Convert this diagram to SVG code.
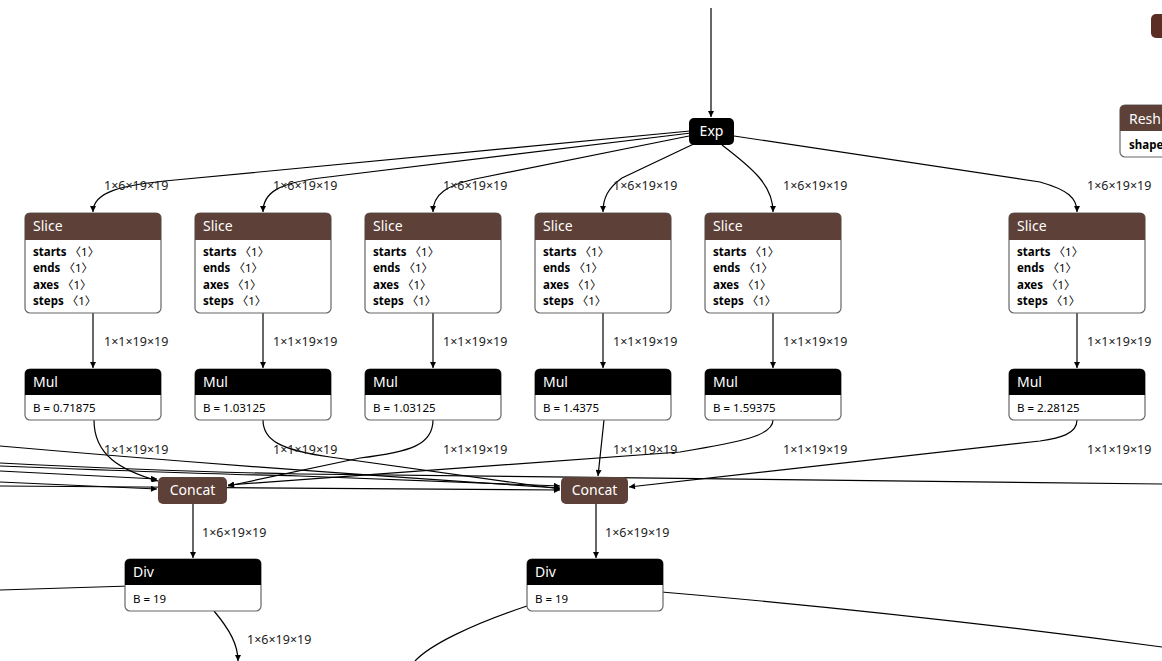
<svg xmlns="http://www.w3.org/2000/svg" width="1162" height="661" viewBox="0 0 1162 661">
<style>
.e{fill:none;stroke:#000;stroke-width:1.2}
.ea{fill:none;stroke:#000;stroke-width:1.2;marker-end:url(#ah)}
.lbl{font-family:"Noto Sans","DejaVu Sans",sans-serif;font-size:12.5px;fill:#222}
.body{fill:#fff;stroke:#666;stroke-width:1.2}
.hb{fill:#5d4037}
.hk{fill:#000}
.ht{font-family:"Noto Sans","DejaVu Sans",sans-serif;font-size:14px;fill:#fff}
.at{font-family:"Noto Sans","Noto Sans CJK SC",sans-serif;font-size:11.5px;fill:#000}
.b{font-weight:bold}
</style>
<defs>
<marker id="ah" viewBox="0 0 10 10" refX="10" refY="5" markerWidth="7" markerHeight="6" markerUnits="userSpaceOnUse" orient="auto"><path d="M0,0 L10,5 L0,10 z" fill="#000"/></marker>
</defs>
<g id="connectors">
<path class="ea" d="M711,8 L711,117"/>
<path class="ea" d="M690,131 L175,180 C120,185 93,192 93,212"/>
<path class="ea" d="M691,133 L320,178 C280,183 263,192 263,212"/>
<path class="ea" d="M694,135 L480,178 C445,185 433,195 433,212"/>
<path class="ea" d="M700,141 L622,178 C608,188 603,198 603,212"/>
<path class="ea" d="M722,145 C752,168 773,185 773,212"/>
<path class="ea" d="M734,136 L1040,182 C1068,190 1077,198 1077,212"/>
<path class="ea" d="M93,313 L93,368"/>
<path class="ea" d="M263,313 L263,368"/>
<path class="ea" d="M433,313 L433,368"/>
<path class="ea" d="M603,313 L603,368"/>
<path class="ea" d="M773,313 L773,368"/>
<path class="ea" d="M1077,313 L1077,368"/>
<path class="ea" d="M94,420 C94,455 120,470 158,481"/>
<path class="ea" d="M263,420 C263,440 280,450 330,457 L560,489"/>
<path class="ea" d="M433,420 C433,445 410,452 360,458 L228,486"/>
<path class="ea" d="M604,420 L598,476"/>
<path class="ea" d="M773,420 C773,436 740,442 680,452 L228,485"/>
<path class="ea" d="M1077,420 C1077,434 1060,438 1040,441 L629,487"/>
<path class="ea" d="M0,446 Q250,468 560,488"/>
<path class="e" d="M0,463 C100,468 200,472 300,474 L1162,484"/>
<path class="ea" d="M0,466 C100,470 200,474 300,476 L560,486"/>
<path class="ea" d="M0,471 L157,479"/>
<path class="ea" d="M0,482 L157,489"/>
<path class="ea" d="M0,486 L140,487 L560,490"/>
<path class="ea" d="M193,503 L193,558"/>
<path class="ea" d="M596,503 L596,558"/>
<path class="e" d="M0,590 L130,586"/>
<path class="ea" d="M214,611 C230,630 238,645 238,661"/>
<path class="e" d="M650,591 Q900,612 1162,647"/>
<path class="e" d="M527,606 C470,625 430,645 415,661"/>
</g>
<g id="labels">
<text class="lbl" x="104" y="190">1×6×19×19</text>
<text class="lbl" x="273" y="190">1×6×19×19</text>
<text class="lbl" x="443" y="190">1×6×19×19</text>
<text class="lbl" x="613" y="190">1×6×19×19</text>
<text class="lbl" x="783" y="190">1×6×19×19</text>
<text class="lbl" x="1087" y="190">1×6×19×19</text>
<text class="lbl" x="104" y="346">1×1×19×19</text>
<text class="lbl" x="273" y="346">1×1×19×19</text>
<text class="lbl" x="443" y="346">1×1×19×19</text>
<text class="lbl" x="613" y="346">1×1×19×19</text>
<text class="lbl" x="783" y="346">1×1×19×19</text>
<text class="lbl" x="1087" y="346">1×1×19×19</text>
<text class="lbl" x="104" y="454">1×1×19×19</text>
<text class="lbl" x="273" y="454">1×1×19×19</text>
<text class="lbl" x="443" y="454">1×1×19×19</text>
<text class="lbl" x="613" y="454">1×1×19×19</text>
<text class="lbl" x="783" y="454">1×1×19×19</text>
<text class="lbl" x="1087" y="454">1×1×19×19</text>
<text class="lbl" x="202" y="537">1×6×19×19</text>
<text class="lbl" x="605" y="537">1×6×19×19</text>
<text class="lbl" x="247" y="644">1×6×19×19</text>
</g>
<g id="exp">
<rect x="689" y="118" width="45" height="27" rx="5" class="hk"/>
<text class="ht" x="711.5" y="136" text-anchor="middle">Exp</text>
</g>
<g id="slice1">
<rect class="body" x="25" y="213" width="136" height="100" rx="5"/>
<path class="hb" d="M25,240 V218 Q25,213 30,213 H156 Q161,213 161,218 V240 Z"/>
<text class="ht" x="33" y="231">Slice</text>
<text class="at" x="33" y="256"><tspan class="b">starts</tspan> 〈1〉</text>
<text class="at" x="33" y="272"><tspan class="b">ends</tspan> 〈1〉</text>
<text class="at" x="33" y="289"><tspan class="b">axes</tspan> 〈1〉</text>
<text class="at" x="33" y="305"><tspan class="b">steps</tspan> 〈1〉</text>
</g>
<g id="slice2">
<rect class="body" x="195" y="213" width="136" height="100" rx="5"/>
<path class="hb" d="M195,240 V218 Q195,213 200,213 H326 Q331,213 331,218 V240 Z"/>
<text class="ht" x="203" y="231">Slice</text>
<text class="at" x="203" y="256"><tspan class="b">starts</tspan> 〈1〉</text>
<text class="at" x="203" y="272"><tspan class="b">ends</tspan> 〈1〉</text>
<text class="at" x="203" y="289"><tspan class="b">axes</tspan> 〈1〉</text>
<text class="at" x="203" y="305"><tspan class="b">steps</tspan> 〈1〉</text>
</g>
<g id="slice3">
<rect class="body" x="365" y="213" width="136" height="100" rx="5"/>
<path class="hb" d="M365,240 V218 Q365,213 370,213 H496 Q501,213 501,218 V240 Z"/>
<text class="ht" x="373" y="231">Slice</text>
<text class="at" x="373" y="256"><tspan class="b">starts</tspan> 〈1〉</text>
<text class="at" x="373" y="272"><tspan class="b">ends</tspan> 〈1〉</text>
<text class="at" x="373" y="289"><tspan class="b">axes</tspan> 〈1〉</text>
<text class="at" x="373" y="305"><tspan class="b">steps</tspan> 〈1〉</text>
</g>
<g id="slice4">
<rect class="body" x="535" y="213" width="136" height="100" rx="5"/>
<path class="hb" d="M535,240 V218 Q535,213 540,213 H666 Q671,213 671,218 V240 Z"/>
<text class="ht" x="543" y="231">Slice</text>
<text class="at" x="543" y="256"><tspan class="b">starts</tspan> 〈1〉</text>
<text class="at" x="543" y="272"><tspan class="b">ends</tspan> 〈1〉</text>
<text class="at" x="543" y="289"><tspan class="b">axes</tspan> 〈1〉</text>
<text class="at" x="543" y="305"><tspan class="b">steps</tspan> 〈1〉</text>
</g>
<g id="slice5">
<rect class="body" x="705" y="213" width="136" height="100" rx="5"/>
<path class="hb" d="M705,240 V218 Q705,213 710,213 H836 Q841,213 841,218 V240 Z"/>
<text class="ht" x="713" y="231">Slice</text>
<text class="at" x="713" y="256"><tspan class="b">starts</tspan> 〈1〉</text>
<text class="at" x="713" y="272"><tspan class="b">ends</tspan> 〈1〉</text>
<text class="at" x="713" y="289"><tspan class="b">axes</tspan> 〈1〉</text>
<text class="at" x="713" y="305"><tspan class="b">steps</tspan> 〈1〉</text>
</g>
<g id="slice6">
<rect class="body" x="1009" y="213" width="136" height="100" rx="5"/>
<path class="hb" d="M1009,240 V218 Q1009,213 1014,213 H1140 Q1145,213 1145,218 V240 Z"/>
<text class="ht" x="1017" y="231">Slice</text>
<text class="at" x="1017" y="256"><tspan class="b">starts</tspan> 〈1〉</text>
<text class="at" x="1017" y="272"><tspan class="b">ends</tspan> 〈1〉</text>
<text class="at" x="1017" y="289"><tspan class="b">axes</tspan> 〈1〉</text>
<text class="at" x="1017" y="305"><tspan class="b">steps</tspan> 〈1〉</text>
</g>
<g id="mul1">
<rect class="body" x="25" y="369" width="136" height="51" rx="5"/>
<path class="hk" d="M25,395 V374 Q25,369 30,369 H156 Q161,369 161,374 V395 Z"/>
<text class="ht" x="33" y="387">Mul</text>
<text class="at" x="33" y="412">B = 0.71875</text>
</g>
<g id="mul2">
<rect class="body" x="195" y="369" width="136" height="51" rx="5"/>
<path class="hk" d="M195,395 V374 Q195,369 200,369 H326 Q331,369 331,374 V395 Z"/>
<text class="ht" x="203" y="387">Mul</text>
<text class="at" x="203" y="412">B = 1.03125</text>
</g>
<g id="mul3">
<rect class="body" x="365" y="369" width="136" height="51" rx="5"/>
<path class="hk" d="M365,395 V374 Q365,369 370,369 H496 Q501,369 501,374 V395 Z"/>
<text class="ht" x="373" y="387">Mul</text>
<text class="at" x="373" y="412">B = 1.03125</text>
</g>
<g id="mul4">
<rect class="body" x="535" y="369" width="136" height="51" rx="5"/>
<path class="hk" d="M535,395 V374 Q535,369 540,369 H666 Q671,369 671,374 V395 Z"/>
<text class="ht" x="543" y="387">Mul</text>
<text class="at" x="543" y="412">B = 1.4375</text>
</g>
<g id="mul5">
<rect class="body" x="705" y="369" width="136" height="51" rx="5"/>
<path class="hk" d="M705,395 V374 Q705,369 710,369 H836 Q841,369 841,374 V395 Z"/>
<text class="ht" x="713" y="387">Mul</text>
<text class="at" x="713" y="412">B = 1.59375</text>
</g>
<g id="mul6">
<rect class="body" x="1009" y="369" width="136" height="51" rx="5"/>
<path class="hk" d="M1009,395 V374 Q1009,369 1014,369 H1140 Q1145,369 1145,374 V395 Z"/>
<text class="ht" x="1017" y="387">Mul</text>
<text class="at" x="1017" y="412">B = 2.28125</text>
</g>
<g id="concat1">
<rect x="158" y="477" width="69" height="27" rx="5" class="hb"/>
<text class="ht" x="192.5" y="495" text-anchor="middle">Concat</text>
</g>
<g id="concat2">
<rect x="561" y="477" width="67" height="27" rx="5" class="hb"/>
<text class="ht" x="594.5" y="495" text-anchor="middle">Concat</text>
</g>
<g id="div1">
<rect class="body" x="125" y="559" width="136" height="52" rx="5"/>
<path class="hk" d="M125,585 V564 Q125,559 130,559 H256 Q261,559 261,564 V585 Z"/>
<text class="ht" x="133" y="577">Div</text>
<text class="at" x="133" y="603">B = 19</text>
</g>
<g id="div2">
<rect class="body" x="527" y="559" width="136" height="52" rx="5"/>
<path class="hk" d="M527,585 V564 Q527,559 532,559 H658 Q663,559 663,564 V585 Z"/>
<text class="ht" x="535" y="577">Div</text>
<text class="at" x="535" y="603">B = 19</text>
</g>
<g id="reshape">
<rect class="body" x="1120" y="105" width="80" height="52" rx="5"/>
<path class="hb" d="M1120,131 V110 Q1120,105 1125,105 H1200 V131 Z"/>
<text class="ht" x="1129" y="124">Resh</text>
<text class="at b" x="1129" y="149">shape</text>
</g>
<g id="topright">
<rect x="1151" y="14" width="30" height="24" rx="5" fill="#5a2e25"/>
</g>
</svg>
